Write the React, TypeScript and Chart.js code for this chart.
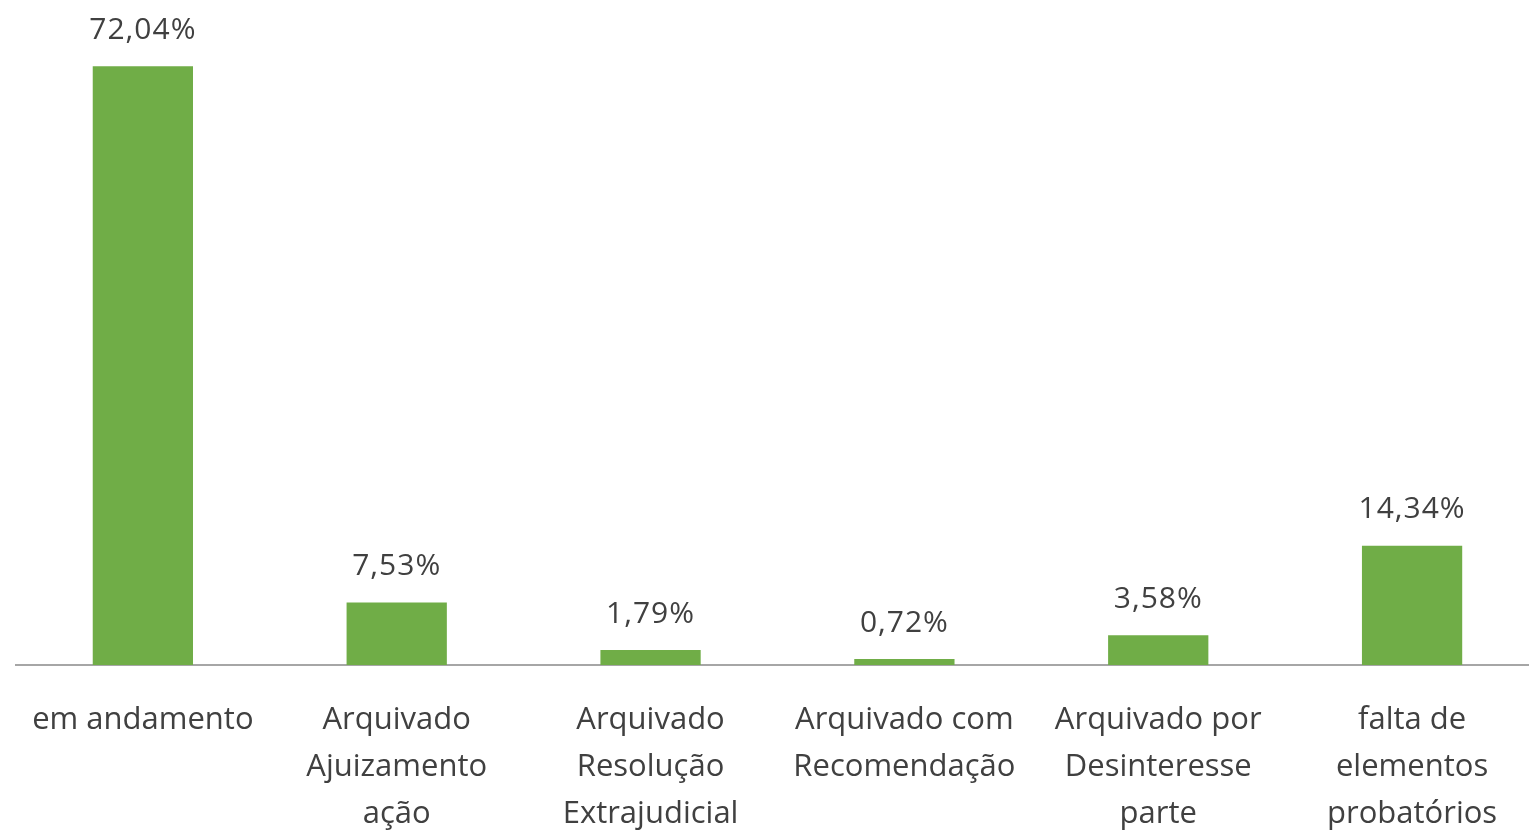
import React, { useEffect, useRef } from "react";
import { Chart, registerables } from "chart.js";

Chart.register(...registerables);

const categories: string[][] = [
  ["em andamento"],
  ["Arquivado", "Ajuizamento", "ação"],
  ["Arquivado", "Resolução", "Extrajudicial"],
  ["Arquivado com", "Recomendação"],
  ["Arquivado por", "Desinteresse", "parte"],
  ["falta de", "elementos", "probatórios"],
];
const values: number[] = [72.04, 7.53, 1.79, 0.72, 3.58, 14.34];
const valueLabels: string[] = ["72,04%", "7,53%", "1,79%", "0,72%", "3,58%", "14,34%"];

const FONT = "'Open Sans', sans-serif";

const dataLabelPlugin = {
  id: "dataLabels",
  afterDatasetsDraw(chart: any) {
    const ctx = chart.ctx;
    const meta = chart.getDatasetMeta(0);
    ctx.save();
    ctx.font = `30px ${FONT}`;
    ctx.fillStyle = "#404040";
    ctx.textAlign = "center";
    ctx.textBaseline = "bottom";
    try { ctx.letterSpacing = "1px"; } catch (e) {}
    meta.data.forEach((bar: any, i: number) => {
      ctx.fillText(valueLabels[i], bar.x, bar.y - 21);
    });
    ctx.restore();
  },
};

export default function App() {
  const ref = useRef<HTMLCanvasElement | null>(null);
  useEffect(() => {
    document.body.style.margin = "0";
    document.body.style.overflow = "hidden";
    const chart = new Chart(ref.current as HTMLCanvasElement, {
      type: "bar",
      data: {
        labels: categories,
        datasets: [
          {
            data: values,
            backgroundColor: "#70AD47",
            borderWidth: 0,
            barPercentage: 1,
            categoryPercentage: 0.395,
          },
        ],
      },
      options: {
        animation: false,
        responsive: false,
        maintainAspectRatio: false,
        layout: { padding: { left: 14, right: 6, top: 0, bottom: 0 } },
        plugins: {
          legend: { display: false },
          tooltip: { enabled: false },
        },
        scales: {
          x: {
            grid: { display: false, drawTicks: false },
            border: { display: true, color: "#a6a6a6", width: 2 },
            ticks: {
              color: "#404040",
              font: { family: FONT, size: 31, lineHeight: 1.53 },
              padding: 31,
              maxRotation: 0,
              autoSkip: false,
            },
            afterFit: (scale: any) => {
              scale.height = 165;
            },
          },
          y: {
            display: false,
            min: 0,
            max: 80,
          },
        },
      },
      plugins: [dataLabelPlugin],
    });
    return () => chart.destroy();
  }, []);
  return (
    <div style={{ position: "absolute", left: 0, top: 0, width: 1545, height: 830, overflow: "hidden", background: "#fff" }}>
      <canvas ref={ref} width={1545} height={830} style={{ width: 1545, height: 830 }} />
    </div>
  );
}
